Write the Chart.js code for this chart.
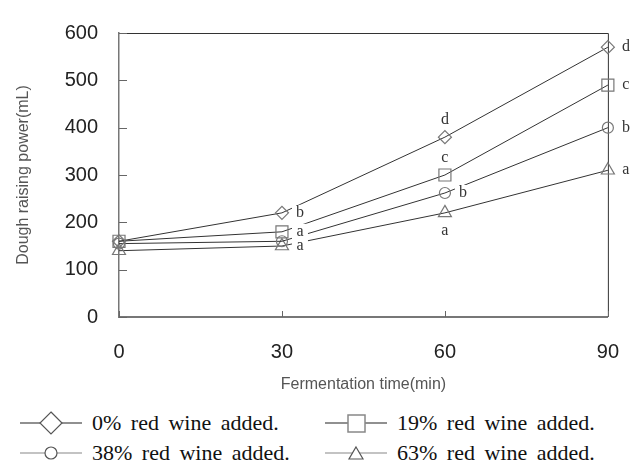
<!DOCTYPE html>
<html>
<head>
<meta charset="utf-8">
<script src="https://cdn.jsdelivr.net/npm/chart.js@4/dist/chart.umd.min.js"></script>
<style>
    body { margin: 0; background: #fff; }
    #wrap { position: relative; width: 642px; height: 466px; }
    #chart { position: absolute; left: 0; top: 0; }
    .leg { position: absolute; display: flex; align-items: center; font-family: "Liberation Serif", "DejaVu Serif", serif; font-size: 22px; color: #111; word-spacing: 4px; white-space: nowrap; }
    .leg svg { margin-right: 10px; }
</style>
</head>
<body>
<div id="wrap">
    <canvas id="chart" width="642" height="400"></canvas>
    <div id="legend"></div>
</div>
<script>
// Data
const times = [0, 30, 60, 90];
const xTicks = [0, 30, 60, 90];
const yTicks = [0, 100, 200, 300, 400, 500, 600];

const seriesNames = ['0% red wine added.', '19% red wine added.', '38% red wine added.', '63% red wine added.'];
const wine0 = [160, 220, 380, 570];
const wine19 = [160, 180, 300, 490];
const wine38 = [155, 160, 262, 400];
const wine63 = [140, 150, 220, 310];

// significance letters next to the points
const letters0 = ['', 'b', 'd', 'd'];
const letters19 = ['', 'a', 'c', 'c'];
const letters38 = ['', '', 'b', 'b'];
const letters63 = ['', 'a', 'a', 'a'];

// where each letter sits relative to its point
const place0 = ['', 'right', 'above', 'right'];
const place19 = ['', 'right', 'above', 'right'];
const place38 = ['', '', 'right', 'right'];
const place63 = ['', 'right', 'below', 'right'];

const values = [wine0, wine19, wine38, wine63];
const letters = [letters0, letters19, letters38, letters63];
const places = [place0, place19, place38, place63];
const markers = ['rectRot', 'rect', 'circle', 'triangle'];
const markerSize = [6.5, 8.5, 5.5, 7.5];

const datasets = values.map((vals, i) => ({
    label: seriesNames[i],
    data: times.map((t, j) => ({ x: t, y: vals[j] })),
    borderColor: '#333',
    borderWidth: 1,
    pointStyle: markers[i],
    pointRadius: markerSize[i],
    pointBorderColor: '#777',
    pointBorderWidth: 1.2,
    pointBackgroundColor: 'rgba(0,0,0,0)',
    tension: 0,
    clip: false
}));

// inward ticks, frame and letters with white boxes behind
const extrasPlugin = {
    id: 'extras',
    beforeDatasetsDraw(chart) {
        const { ctx, chartArea: a, scales } = chart;
        ctx.save();
        ctx.strokeStyle = '#333';
        ctx.lineWidth = 1;
        ctx.beginPath();
        ctx.moveTo(a.left, a.top + 0.5);
        ctx.lineTo(a.right + 0.5, a.top + 0.5);
        ctx.lineTo(a.right + 0.5, a.bottom);
        ctx.stroke();

        ctx.strokeStyle = '#666';
        ctx.beginPath();
        yTicks.forEach(v => {
            const y = Math.round(scales.y.getPixelForValue(v)) + 0.5;
            ctx.moveTo(a.left, y);
            ctx.lineTo(a.left + 8, y);
        });
        xTicks.forEach(v => {
            const x = Math.round(scales.x.getPixelForValue(v)) + 0.5;
            ctx.moveTo(x, a.bottom);
            ctx.lineTo(x, a.bottom - 6);
        });
        ctx.stroke();
        ctx.restore();
    },
    afterDatasetsDraw(chart) {
        const { ctx, scales } = chart;
        ctx.save();
        ctx.font = '16px "Liberation Serif", serif';
        ctx.textAlign = 'center';
        ctx.textBaseline = 'middle';
        letters.forEach((row, i) => {
            row.forEach((txt, j) => {
                if (!txt) return;
                let x = scales.x.getPixelForValue(times[j]);
                let y = scales.y.getPixelForValue(values[i][j]);
                if (places[i][j] === 'right') x += 18;
                if (places[i][j] === 'above') y -= 17;
                if (places[i][j] === 'below') y += 18;
                ctx.fillStyle = '#fff';
                ctx.fillRect(x - 8, y - 8, 16, 16);
                ctx.fillStyle = '#333';
                ctx.fillText(txt, x, y);
            });
        });
        ctx.restore();
    }
};

const ctx = document.getElementById('chart').getContext('2d');
new Chart(ctx, {
    type: 'line',
    data: { datasets },
    options: {
        responsive: false,
        animation: false,
        devicePixelRatio: 1,
        layout: { padding: { top: 19, right: 34, left: 0, bottom: 0 } },
        plugins: {
            legend: { display: false },
            tooltip: { enabled: false }
        },
        scales: {
            x: {
                type: 'linear',
                min: 0,
                max: 90,
                afterBuildTicks: s => { s.ticks = xTicks.map(v => ({ value: v })); },
                afterFit: s => { s.height = 83; },
                grid: { display: true, drawOnChartArea: false, drawTicks: false },
                border: { color: '#777', width: 2 },
                ticks: {
                    padding: 23,
                    color: '#222',
                    font: { family: '"Liberation Sans", Arial, sans-serif', size: 20 }
                },
                title: {
                    display: true,
                    text: 'Fermentation time(min)',
                    color: '#555',
                    padding: { top: 0, bottom: 6 },
                    font: { family: '"Liberation Sans", Arial, sans-serif', size: 16 }
                }
            },
            y: {
                min: 0,
                max: 600,
                afterBuildTicks: s => { s.ticks = yTicks.map(v => ({ value: v })); },
                afterFit: s => { s.width = 119; },
                grid: { display: true, drawOnChartArea: false, drawTicks: false },
                border: { color: '#777', width: 1.5 },
                ticks: {
                    padding: 21,
                    color: '#222',
                    font: { family: '"Liberation Sans", Arial, sans-serif', size: 20 }
                },
                title: {
                    display: true,
                    text: 'Dough raising power(mL)',
                    color: '#555',
                    padding: { top: 14, bottom: 0 },
                    font: { family: '"Liberation Sans", Arial, sans-serif', size: 16 }
                }
            }
        }
    },
    plugins: [extrasPlugin]
});

// HTML legend below the chart
const legendSymbols = [
    '<polygon points="31,1 42,12 31,23 20,12" fill="#fff" stroke="#555" stroke-width="1.2"/>',
    '<rect x="23" y="4" width="17" height="17" fill="#fff" stroke="#888" stroke-width="1.5"/>',
    '<circle cx="31" cy="12" r="6" fill="#fff" stroke="#555" stroke-width="1.2"/>',
    '<polygon points="31,6 38,18 24,18" fill="#fff" stroke="#555" stroke-width="1.2"/>'
];
const legendLine = ['#222', '#222', '#888', '#888'];
const legendPos = [[20, 410], [325, 410], [20, 440], [325, 440]];
const legendEl = document.getElementById('legend');
seriesNames.forEach((name, i) => {
    const item = document.createElement('div');
    item.className = 'leg';
    item.style.left = legendPos[i][0] + 'px';
    item.style.top = legendPos[i][1] + 'px';
    item.innerHTML = `<svg width="62" height="24" viewBox="0 0 62 24">
        <line x1="0" y1="12" x2="62" y2="12" stroke="${legendLine[i]}" stroke-width="1.2"/>
        ${legendSymbols[i]}
    </svg><span>${name}</span>`;
    legendEl.appendChild(item);
});
</script>
</body>
</html>
